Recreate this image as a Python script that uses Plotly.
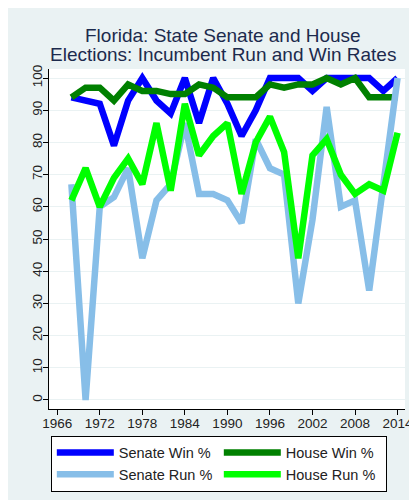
import plotly.graph_objects as go

# Florida incumbent run / win rates (percent), every two years
years = [1968, 1970, 1972, 1974, 1976, 1978, 1980, 1982, 1984, 1986, 1988, 1990,
         1992, 1994, 1996, 1998, 2000, 2002, 2004, 2006, 2008, 2010, 2012, 2014]
senate_win = [94, 93, 92, 79, 93, 100, 93, 89, 100, 86, 100, 92,
              82, 90, 100, 100, 100, 96, 100, 100, 100, 100, 96, 100]
house_win = [94, 97, 97, 93, 98, 96, 96, 95, 95, 98, 97, 94,
             94, 94, 98, 97, 98, 98, 100, 98, 100, 94, 94, 94]
senate_run = [67, 0, 60, 63, 72, 44, 62, 67, 86, 64, 64, 62,
              55, 81, 72, 70, 30, 56, 91, 60, 62, 34, 67, 100]
house_run = [62, 72, 60, 69, 75, 67, 86, 65, 92, 76, 82, 86,
             64, 80, 88, 77, 44, 76, 81, 70, 64, 67, 65, 83]

x_ticks = [1966, 1972, 1978, 1984, 1990, 1996, 2002, 2008, 2014]
y_ticks = [0, 10, 20, 30, 40, 50, 60, 70, 80, 90, 100]

title_lines = ["Florida: State Senate and House",
               "Elections: Incumbent Run and Win Rates"]

series = [
    ("Senate Win %", senate_win, "#0000ff"),
    ("House Win %", house_win, "#008000"),
    ("Senate Run %", senate_run, "#87bee8"),
    ("House Run %", house_run, "#00ff00"),
]

FONT = "Liberation Sans, Arial, sans-serif"
BG = "#eaf2f3"

fig = go.Figure()
for name, vals, color in series:
    fig.add_trace(go.Scatter(x=years, y=vals, mode="lines", name=name,
                             line=dict(color=color, width=6.5)))

fig.update_layout(
    width=417, height=500,
    margin=dict(l=41, r=16, t=61, b=99),
    paper_bgcolor=BG, plot_bgcolor="white",
    font=dict(family=FONT, color="#222222", size=13.5),
    showlegend=True,
    legend=dict(orientation="h", x=0.477, xanchor="center", y=-0.078, yanchor="top",
                bgcolor="white", bordercolor="black", borderwidth=1,
                entrywidth=95, itemwidth=57,
                font=dict(family=FONT, size=14.5, color="#222222"),
                traceorder="normal"),
    xaxis=dict(range=[1964.84, 2015.05], tickvals=x_ticks, showgrid=False,
               zeroline=False, showline=True, linecolor="black", linewidth=1,
               ticks="outside", ticklen=5, tickcolor="black",
               ticklabelstandoff=-3),
    yaxis=dict(range=[-2.8, 102.8], tickvals=y_ticks, showgrid=True,
               gridcolor=BG, gridwidth=1, zeroline=False, showline=True,
               linecolor="black", linewidth=1, ticks="outside", ticklen=5,
               tickcolor="black", tickangle=-90, ticklabelstandoff=-4),
)

for i, line in enumerate(title_lines):
    fig.add_annotation(text=line, xref="paper", yref="paper", x=0.49, xanchor="center",
                       y=1 + (61 - 27.5 - 18.7 * i) / 340, yanchor="middle",
                       showarrow=False,
                       font=dict(family=FONT, size=19, color="#1c2a4d"))

fig.write_html("out.html")
